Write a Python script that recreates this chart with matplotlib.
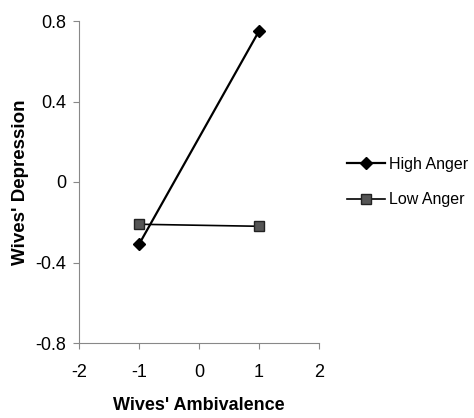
import matplotlib
matplotlib.use("Agg")
import matplotlib.pyplot as plt

x_vals = [-1, 1]
high_anger = [-0.31, 0.75]
low_anger = [-0.21, -0.22]
series_names = ["High Anger", "Low Anger"]
xticks = [-2, -1, 0, 1, 2]
yticks = [-0.8, -0.4, 0, 0.4, 0.8]
ytick_labels = ["-0.8", "-0.4", "0", "0.4", "0.8"]

plt.rcParams['font.family'] = ['Liberation Sans', 'DejaVu Sans']

fig = plt.figure(figsize=(4.74, 4.18), dpi=100)
ax = fig.add_axes([79/474, 1-343/418, 240/474, 322/418])

l1, = ax.plot(x_vals, high_anger, color='black', lw=1.6, marker='D', ms=6,
              markerfacecolor='black', markeredgecolor='black', label=series_names[0])
l2, = ax.plot(x_vals, low_anger, color='black', lw=1.2, marker='s', ms=6.5,
              markerfacecolor='#555555', markeredgecolor='#222222', label=series_names[1])

ax.set_xlim(-2, 2)
ax.set_ylim(-0.8, 0.8)
ax.set_xticks(xticks)
ax.set_xticklabels([str(t) for t in xticks])
ax.set_yticks(yticks)
ax.set_yticklabels(ytick_labels)
ax.tick_params(axis='both', direction='out', length=4, width=0.8, color='#888888',
               labelsize=13)
ax.tick_params(axis='x', pad=11)
ax.tick_params(axis='y', pad=5)

for s in ['top', 'right']:
    ax.spines[s].set_visible(False)
for s in ['left', 'bottom']:
    ax.spines[s].set_color('#888888')
    ax.spines[s].set_linewidth(0.8)

ax.set_xlabel("Wives' Ambivalence", fontsize=13, fontweight='bold', labelpad=12)
ax.set_ylabel("Wives' Depression", fontsize=13.5, fontweight='bold', labelpad=4.5)

fig.legend(handles=[l1, l2], loc='center left', bbox_to_anchor=(347/474, 1-182/418),
           frameon=False, fontsize=11.5, handlelength=2.4, handletextpad=0.2,
           labelspacing=1.3, borderaxespad=0, borderpad=0)

fig.savefig("out.png", dpi=100)
